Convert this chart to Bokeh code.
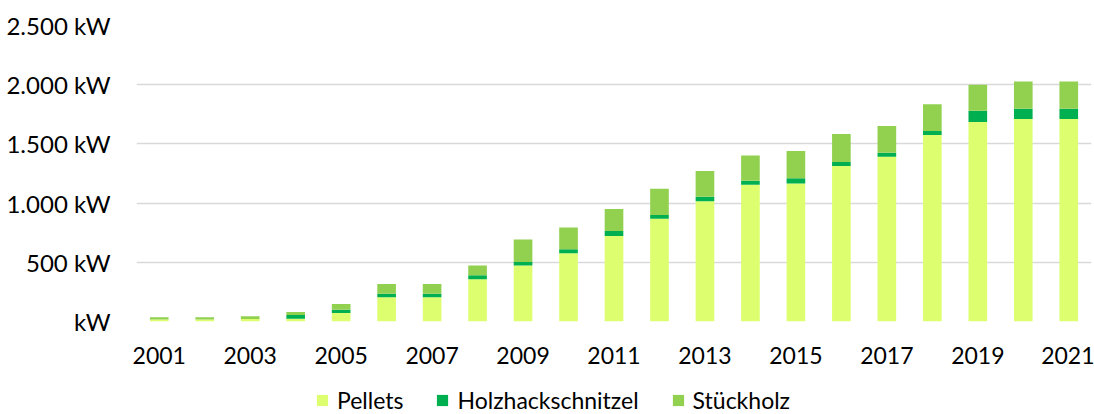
from bokeh.plotting import figure
from bokeh.layouts import column
from bokeh.models import (ColumnDataSource, Range1d, FixedTicker,
                          Legend, LegendItem)
from bokeh.embed import file_html
from bokeh.resources import INLINE

years = list(range(2001, 2022))
pellets = [17, 17, 22, 24, 72, 204, 204, 356, 472, 576, 723, 867, 1016,
           1155, 1166, 1313, 1392, 1575, 1686, 1711, 1711]
holzhack = [0, 0, 0, 31, 28, 31, 31, 34, 30, 34, 42, 33, 37,
            33, 43, 34, 34, 34, 93, 85, 85]
stueckholz = [18, 18, 23, 25, 48, 82, 82, 84, 190, 184, 186, 221, 218,
              215, 231, 237, 226, 226, 221, 231, 231]
series = ["Pellets", "Holzhackschnitzel", "Stückholz"]
colors = ["#DDFF6F", "#00B050", "#92D050"]
x_ticks = [2001, 2003, 2005, 2007, 2009, 2011, 2013, 2015, 2017, 2019, 2021]
y_ticks = [0, 500, 1000, 1500, 2000, 2500]
y_labels = ["kW", "500 kW", "1.000 kW", "1.500 kW", "2.000 kW", "2.500 kW"]

FONT = "Lato"
W = 1094

src = ColumnDataSource(dict(year=years, Pellets=pellets,
                            Holzhackschnitzel=holzhack, Stückholz=stueckholz))

p = figure(x_range=Range1d(2000.5, 2021.5), y_range=Range1d(0, 2500),
           width=W, height=376, output_backend="svg", toolbar_location=None,
           min_border_left=136, min_border_right=3, min_border_top=25,
           min_border_bottom=55)
p.outline_line_color = None

rs = p.vbar_stack(series, x="year", width=0.41, color=colors, source=src,
                  line_color=None)

# y axis
p.yaxis.ticker = FixedTicker(ticks=y_ticks)
p.yaxis.major_label_overrides = {t: l for t, l in zip(y_ticks, y_labels)}
p.yaxis.axis_line_color = None
p.yaxis.major_tick_line_color = None
p.yaxis.minor_tick_line_color = None
p.yaxis.major_tick_out = 0
p.yaxis.major_label_standoff = 26
p.yaxis.major_label_text_font = FONT
p.yaxis.major_label_text_font_size = "24px"
p.yaxis.major_label_text_color = "#000000"

# x axis
p.xaxis.ticker = FixedTicker(ticks=x_ticks)
p.xaxis.major_label_overrides = {t: str(t) for t in x_ticks}
p.xaxis.axis_line_color = None
p.xaxis.major_tick_line_color = None
p.xaxis.minor_tick_line_color = None
p.xaxis.major_tick_in = 0
p.xaxis.major_tick_out = 0
p.xaxis.major_label_standoff = 25
p.xaxis.major_label_text_font = FONT
p.xaxis.major_label_text_font_size = "23px"
p.xaxis.major_label_text_color = "#000000"

p.xgrid.grid_line_color = None
p.ygrid.ticker = FixedTicker(ticks=y_ticks)
p.ygrid.grid_line_color = "#D9D9D9"
p.ygrid.grid_line_width = 1.6

# legend strip below the chart: zero-size proxy bars outside its y range
lg = figure(x_range=Range1d(2000.5, 2021.5), y_range=Range1d(-100, -50),
            width=W, height=38,
            output_backend="svg", toolbar_location=None,
            x_axis_location=None, y_axis_location=None,
            min_border=0, min_border_left=0, min_border_right=0,
            min_border_top=0, min_border_bottom=0)
lg.outline_line_color = None
lg.grid.grid_line_color = None
items = []
for s, c in zip(series, colors):
    r = lg.vbar(x="year", top=s, bottom=s, width=0, color=c,
                line_color=None, source=src)
    items.append(LegendItem(label=s, renderers=[r]))

legend = Legend(items=items, orientation="horizontal", location=(179, 0),
                glyph_width=14, glyph_height=14, label_standoff=8, spacing=32,
                padding=0, margin=0, border_line_color=None,
                background_fill_alpha=0,
                label_text_font=FONT, label_text_font_size="23px",
                label_text_color="#000000")
lg.add_layout(legend, "center")

layout = column(p, lg, spacing=0)
open("out.html", "w").write(file_html(layout, INLINE))
